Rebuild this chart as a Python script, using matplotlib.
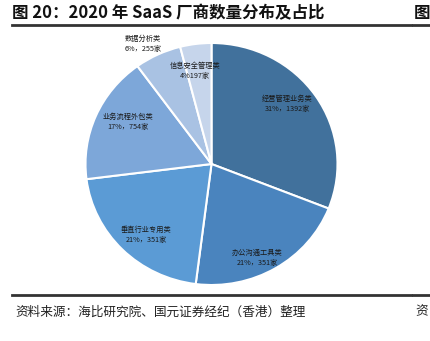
import matplotlib
matplotlib.use("Agg")
import matplotlib.pyplot as plt

plt.rcParams["font.family"] = ["Noto Sans CJK SC", "DejaVu Sans"]

# 数据（顺时针，从 12 点方向开始）
categories = ["经营管理业务类", "办公沟通工具类", "垂直行业专用类",
              "业务流程外包类", "数据分析类", "信息安全管理类"]
shares = [31, 21, 21, 17, 6, 4]
share_labels = ["31%，1392家", "21%，351家", "21%，351家",
                "17%，754家", "6%，255家", "4%197家"]
colors = ["#41719C", "#4A84BE", "#5B9BD5", "#7DA7D9", "#A9C2E3", "#C6D5EB"]
# 标签位置（像素）
label_px = [(287, 104), (257, 258), (146, 235), (128, 122), (143, 44), (195, 71)]

W, H = 431, 341
fig = plt.figure(figsize=(W / 100, H / 100), dpi=100)


def fx(x):
    return x / W


def fy(y):
    return 1 - y / H


# 饼图区域（略呈椭圆）
left, right, top, bottom = 85.5, 337.5, 43, 285
ax = fig.add_axes([fx(left), fy(bottom), (right - left) / W, (bottom - top) / H])
ax.pie(shares, colors=colors, startangle=90, counterclock=False,
       wedgeprops=dict(edgecolor="white", linewidth=1.5))
ax.set_aspect("auto")
ax.set_xlim(-1.0, 1.0)
ax.set_ylim(-1.0, 1.0)
ax.axis("off")

for cat, lab, (x, y) in zip(categories, share_labels, label_px):
    fig.text(fx(x), fy(y), f"{cat}\n{lab}", ha="center", va="center",
             fontsize=5.2, linespacing=1.45, color="#1a1a1a")

# 标题与分隔线
fig.text(fx(12), fy(13), "图 20：2020 年 SaaS 厂商数量分布及占比",
         ha="left", va="center", fontsize=11.9, fontweight="bold", color="#111111")
fig.text(fx(414), fy(13), "图", ha="left", va="center",
         fontsize=11.9, fontweight="bold", color="#111111")
for y in (25, 295):
    fig.add_artist(plt.Line2D([fx(12), fx(411)], [fy(y), fy(y)], color="#333333", lw=2))
    fig.add_artist(plt.Line2D([fx(413), fx(431)], [fy(y), fy(y)], color="#333333", lw=2))

fig.text(fx(15), fy(312), "资料来源：海比研究院、国元证券经纪（香港）整理",
         ha="left", va="center", fontsize=9.1, color="#222222", style="italic")
fig.text(fx(415), fy(312), "资", ha="left", va="center",
         fontsize=9.1, color="#222222", style="italic")

fig.savefig("out.png", dpi=100)
